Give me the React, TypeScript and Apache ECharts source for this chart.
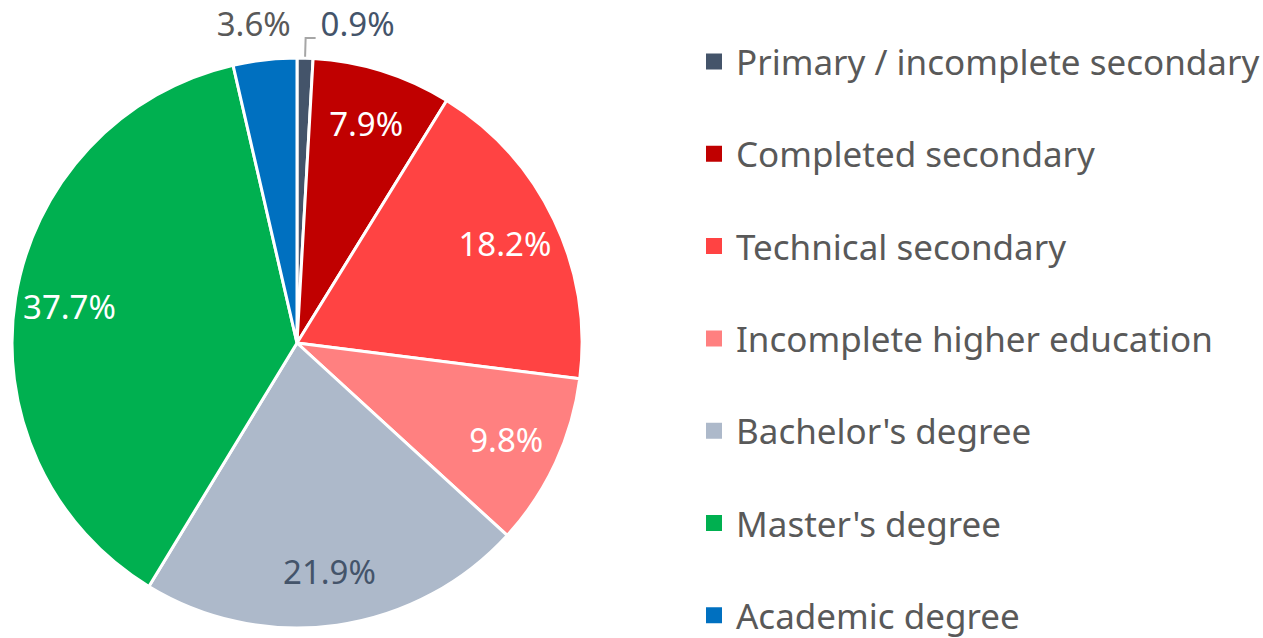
import React, { useEffect, useRef } from "react";
import * as echarts from "echarts";

const categories = [
  "Primary / incomplete secondary",
  "Completed secondary",
  "Technical secondary",
  "Incomplete higher education",
  "Bachelor's degree",
  "Master's degree",
  "Academic degree",
];
const values = [0.9, 7.9, 18.2, 9.8, 21.9, 37.7, 3.6];
const colors = ["#44546A", "#C00000", "#FF4343", "#FF8080", "#ADB9CA", "#00B050", "#0070C0"];
const insideLabelColors = ["#44546A", "#FFFFFF", "#FFFFFF", "#FFFFFF", "#44546A", "#FFFFFF", "#FFFFFF"];
const outsideLabelColors = ["#44546A", "", "", "", "", "", "#595959"];

const FONT = "'Noto Sans', 'Open Sans', sans-serif";

export default function App() {
  const ref = useRef<HTMLDivElement>(null);
  useEffect(() => {
    document.body.style.margin = "0";
    const chart = echarts.init(ref.current!, null, { renderer: "svg" });
    const isSmall = (v: number) => v < 5;
    const mainData = categories.map((name, i) => ({
      name,
      value: values[i],
      itemStyle: { color: colors[i] },
      label: isSmall(values[i])
        ? {
            show: true,
            position: "outside",
            color: outsideLabelColors[i],
            fontSize: 33,
            lineHeight: 30,
            fontFamily: FONT,
            formatter: (p: any) => p.value.toFixed(1) + "%" + (p.dataIndex === 0 ? "\n " : ""),
          }
        : { show: false },
      labelLine: isSmall(values[i])
        ? i === 0
          ? { show: true, length: 20, length2: 10, lineStyle: { color: "#A6A6A6", width: 2 } }
          : { show: false, length: 10, length2: 4 }
        : { show: false },
    }));
    const overlayData = categories.map((name, i) => ({
      name,
      value: values[i],
      label: isSmall(values[i])
        ? { show: false }
        : {
            show: true,
            color: insideLabelColors[i],
          },
    }));
    chart.setOption({
      animation: false,
      legend: {
        orient: "vertical",
        left: 704,
        top: 44,
        padding: 0,
        icon: "rect",
        itemWidth: 18,
        itemHeight: 18,
        itemGap: 57.3,
        selectedMode: false,
        data: categories.map((n, i) => ({ name: n, itemStyle: { color: colors[i] } })),
        textStyle: {
          fontSize: 35,
          lineHeight: 35,
          color: "#595959",
          fontFamily: FONT,
          padding: [0, 0, 0, 8],
        },
      },
      series: [
        {
          type: "pie",
          center: [297, 343],
          radius: [0, 285],
          startAngle: 90,
          clockwise: true,
          avoidLabelOverlap: false,
          itemStyle: { borderColor: "#FFFFFF", borderWidth: 3 },
          labelLayout: (p: any) => (p.dataIndex === 6 ? { dx: 36, dy: -26 } : {}),
          data: mainData,
        },
        {
          type: "pie",
          center: [297, 343],
          radius: [170, 285],
          startAngle: 90,
          clockwise: true,
          silent: true,
          itemStyle: { color: "rgba(0,0,0,0)", borderWidth: 0 },
          label: {
            position: "inside",
            fontSize: 33,
            fontFamily: FONT,
            formatter: (p: any) => p.value.toFixed(1) + "%",
          },
          labelLine: { show: false },
          data: overlayData,
        },
      ],
    });
    return () => chart.dispose();
  }, []);
  return (
    <div
      ref={ref}
      style={{ position: "absolute", left: 0, top: 0, width: 1263, height: 638 }}
    />
  );
}
